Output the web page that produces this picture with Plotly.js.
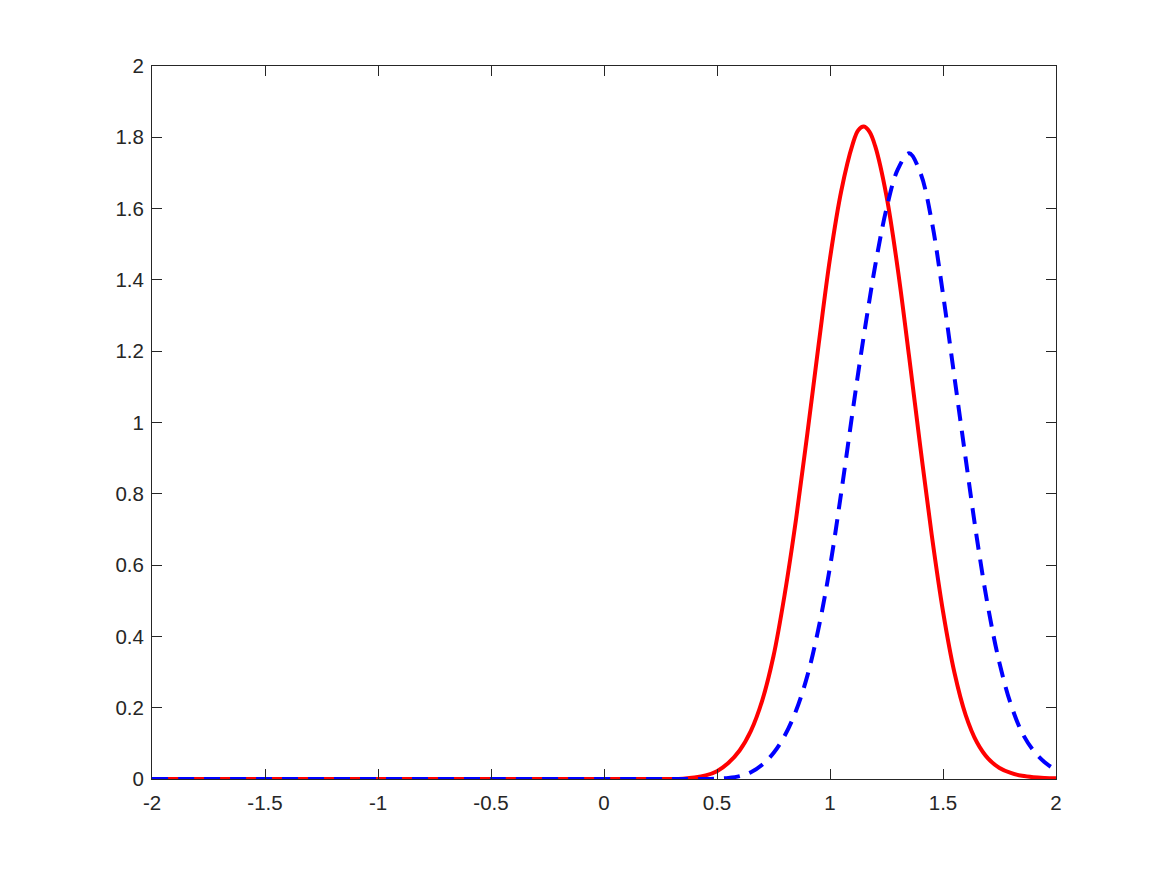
<!DOCTYPE html>
<html>
<head>
<meta charset="utf-8">
<script src="https://cdn.plot.ly/plotly-3.0.1.min.js"></script>
<style>
  html, body { margin: 0; padding: 0; background: #fff; }
  #chart { width: 1167px; height: 875px; }
</style>
</head>
<body>
<div id="chart"></div>
<script>
// Valores
const xVals = [-2, -1.5, -1, -0.5, 0, 0.2, 0.3, 0.35, 0.4, 0.45, 0.5, 0.55, 0.6, 0.65, 0.7, 0.75,
  0.8, 0.85, 0.9, 0.95, 1, 1.05, 1.1, 1.125, 1.15, 1.175, 1.2, 1.25, 1.3, 1.35, 1.4, 1.45, 1.5, 1.55,
  1.6, 1.65, 1.7, 1.75, 1.8, 1.85, 1.9, 1.95, 2];

const redVals = [0, 0, 0, 0, 0, 0, 0, 0.001, 0.004, 0.01, 0.022, 0.045, 0.08, 0.135, 0.22, 0.345,
  0.52, 0.73, 0.97, 1.22, 1.46, 1.65, 1.78, 1.82, 1.83, 1.815, 1.775, 1.635, 1.43, 1.185, 0.93, 0.685, 0.47, 0.30,
  0.18, 0.103, 0.057, 0.031, 0.017, 0.009, 0.005, 0.003, 0.002];

const blueVals = [0, 0, 0, 0, 0, 0, 0, 0, 0, 0, 0.001, 0.003, 0.008, 0.019, 0.04, 0.073,
  0.122, 0.192, 0.29, 0.425, 0.595, 0.805, 1.03, 1.14, 1.245, 1.345, 1.44, 1.60, 1.71, 1.755, 1.70, 1.565, 1.36, 1.13,
  0.90, 0.675, 0.48, 0.325, 0.21, 0.13, 0.08, 0.047, 0.025];

const xTicks = [-2, -1.5, -1, -0.5, 0, 0.5, 1, 1.5, 2];
const xTickText = ['-2', '-1.5', '-1', '-0.5', '0', '0.5', '1', '1.5', '2'];
const yTicks = [0, 0.2, 0.4, 0.6, 0.8, 1, 1.2, 1.4, 1.6, 1.8, 2];
const yTickText = ['0', '0.2', '0.4', '0.6', '0.8', '1', '1.2', '1.4', '1.6', '1.8', '2'];

const axisCommon = {
  showgrid: false,
  zeroline: false,
  showline: true,
  mirror: 'ticks',
  linecolor: '#262626',
  linewidth: 1,
  ticks: 'inside',
  ticklen: 10,
  tickwidth: 1,
  tickcolor: '#262626',
  tickmode: 'array',
  tickfont: { family: 'Liberation Sans, Arial, sans-serif', size: 20.5, color: '#262626' }
};

const data = [
  {
    x: xVals, y: redVals, type: 'scatter', mode: 'lines',
    line: { color: '#ff0000', width: 4, shape: 'spline', smoothing: 1 },
    hoverinfo: 'skip'
  },
  {
    x: xVals, y: blueVals, type: 'scatter', mode: 'lines',
    line: { color: '#0000ff', width: 4, dash: '16px,10px', shape: 'spline', smoothing: 1 },
    hoverinfo: 'skip'
  }
];

const layout = {
  width: 1167,
  height: 875,
  paper_bgcolor: '#ffffff',
  plot_bgcolor: '#ffffff',
  showlegend: false,
  margin: { l: 152, r: 111, t: 66, b: 96 },
  xaxis: { ...axisCommon, range: [-2, 2], tickvals: xTicks, ticktext: xTickText,
    ticklabelstandoff: 5, title: { text: '' } },
  yaxis: { ...axisCommon, range: [0, 2], tickvals: yTicks, ticktext: yTickText,
    ticklabelstandoff: 3, title: { text: '' } }
};

Plotly.newPlot('chart', data, layout, { displayModeBar: false, staticPlot: true });
</script>
</body>
</html>
